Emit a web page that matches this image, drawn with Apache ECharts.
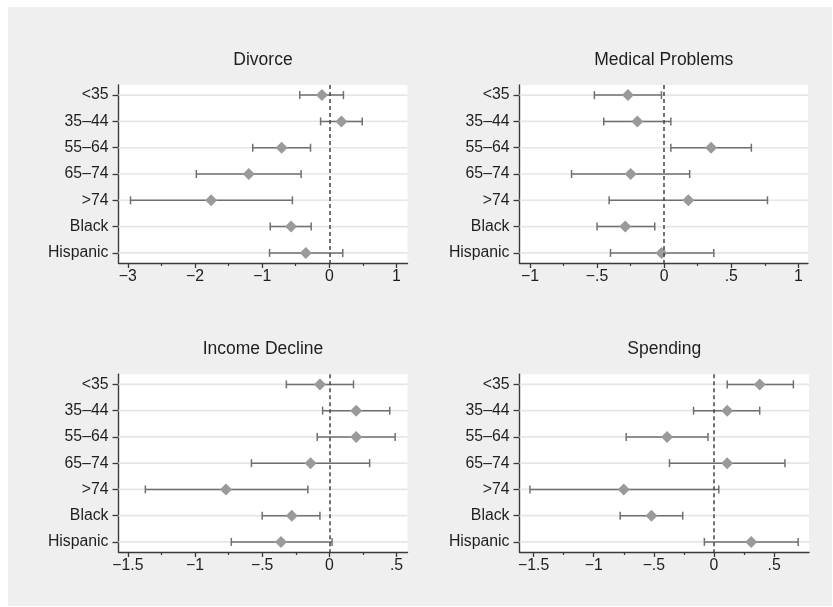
<!DOCTYPE html>
<html>
<head>
<meta charset="utf-8" />
<title>coef plot</title>
<script type="text/javascript" src="https://cdn.jsdelivr.net/npm/echarts@6/dist/echarts.min.js"></script>
<style>
    html, body { margin: 0; padding: 0; background: #ffffff; }
    #main { width: 833px; height: 607px; }
</style>
</head>
<body>
<div id="main"></div>
<script type="text/javascript">
    // rows (top to bottom)
    var rows = ['<35', '35–44', '55–64', '65–74', '>74', 'Black', 'Hispanic'];

    var divorceEst = [-0.11, 0.18, -0.71, -1.20, -1.76, -0.57, -0.35];
    var divorceLo  = [-0.44, -0.13, -1.14, -1.98, -2.96, -0.88, -0.89];
    var divorceHi  = [0.21, 0.49, -0.28, -0.42, -0.55, -0.27, 0.20];

    var medicalEst = [-0.27, -0.20, 0.35, -0.25, 0.18, -0.29, -0.02];
    var medicalLo  = [-0.52, -0.45, 0.05, -0.69, -0.41, -0.50, -0.40];
    var medicalHi  = [-0.02, 0.05, 0.65, 0.19, 0.77, -0.07, 0.37];

    var incomeEst = [-0.07, 0.20, 0.20, -0.14, -0.77, -0.28, -0.36];
    var incomeLo  = [-0.32, -0.05, -0.09, -0.58, -1.37, -0.50, -0.73];
    var incomeHi  = [0.18, 0.45, 0.49, 0.30, -0.16, -0.07, 0.02];

    var spendingEst = [0.38, 0.11, -0.39, 0.11, -0.75, -0.52, 0.31];
    var spendingLo  = [0.11, -0.17, -0.73, -0.37, -1.53, -0.78, -0.08];
    var spendingHi  = [0.66, 0.38, -0.05, 0.59, 0.04, -0.26, 0.70];

    var titles = ['Divorce', 'Medical Problems', 'Income Decline', 'Spending'];
    var majorTicks = [[-3, -2, -1, 0, 1], [-1, -0.5, 0, 0.5, 1], [-1.5, -1, -0.5, 0, 0.5], [-1.5, -1, -0.5, 0, 0.5]];
    var minorTicks = [[-2.5, -1.5, -0.5, 0.5], [-0.75, -0.25, 0.25, 0.75], [-1.25, -0.75, -0.25, 0.25], [-1.25, -0.75, -0.25, 0.25]];
    var xMin = [-3.139, -1.078, -1.570, -1.617];
    var xMax = [1.164, 1.072, 0.582, 0.790];

    var est = [divorceEst, medicalEst, incomeEst, spendingEst];
    var lo = [divorceLo, medicalLo, incomeLo, spendingLo];
    var hi = [divorceHi, medicalHi, incomeHi, spendingHi];

    // panel boxes
    var boxes = [
        {left: 118.5, top: 85, width: 289, height: 178},
        {left: 519.5, top: 85, width: 288.5, height: 178},
        {left: 118.5, top: 374.3, width: 289, height: 177.7},
        {left: 519.5, top: 374.3, width: 289.5, height: 177.7}
    ];

    var font = 'Liberation Sans, Arial, Helvetica, sans-serif';
    var axisColor = '#3a3a3a';

    function fmt(v) {
        var s = String(+(+v).toFixed(2));
        s = s.replace(/^(-?)0\./, '$1.');
        return s.replace('-', '\u2212');
    }

    var grids = [], xAxes = [], yAxes = [], series = [], titleList = [];
    var rowIdx = [1, 2, 3, 4, 5, 6, 7];

    for (var p = 0; p < 4; p++) {
        var b = boxes[p];
        grids.push({left: b.left, top: b.top, width: b.width, height: b.height,
            show: true, backgroundColor: '#ffffff', borderWidth: 0});

        titleList.push({
            text: titles[p], left: b.left + b.width / 2, top: b.top - 34,
            textAlign: 'center', padding: 0,
            textStyle: {fontSize: 17.5, fontWeight: 'normal', color: '#1e1e1e', fontFamily: font}
        });

        // major ticks + labels
        xAxes.push({
            type: 'value', gridIndex: p, min: xMin[p], max: xMax[p], position: 'bottom',
            axisLine: {show: true, onZero: false, lineStyle: {color: axisColor, width: 1.4}},
            axisTick: {show: true, length: 5, customValues: majorTicks[p], lineStyle: {color: axisColor, width: 1.3}},
            axisLabel: {show: true, customValues: majorTicks[p], margin: 6, fontSize: 15.8, color: '#1e1e1e',
                fontFamily: font, formatter: fmt},
            splitLine: {show: false}
        });
        // minor ticks
        xAxes.push({
            type: 'value', gridIndex: p, min: xMin[p], max: xMax[p], position: 'bottom',
            axisLine: {show: false, onZero: false},
            axisTick: {show: true, length: 3, customValues: minorTicks[p], lineStyle: {color: axisColor, width: 1.2}},
            axisLabel: {show: false},
            splitLine: {show: false}
        });

        yAxes.push({
            type: 'value', gridIndex: p, min: 0.615, max: 7.385, inverse: true,
            axisLine: {show: true, onZero: false, lineStyle: {color: axisColor, width: 1.4}},
            axisTick: {show: true, length: 6, customValues: rowIdx, lineStyle: {color: axisColor, width: 1.3}},
            axisLabel: {show: true, customValues: rowIdx, margin: 10, fontSize: 15.8, color: '#1e1e1e',
                fontFamily: font, formatter: function (v) { return rows[Math.round(v) - 1]; }},
            splitLine: {show: false}
        });

        var rowData = [], barData = [], ptData = [];
        for (var i = 0; i < rows.length; i++) {
            rowData.push([0, i + 1]);
            barData.push([lo[p][i], hi[p][i], i + 1]);
            ptData.push([est[p][i], i + 1]);
        }

        // horizontal grid lines
        series.push({
            type: 'custom', xAxisIndex: p * 2, yAxisIndex: p, data: rowData, silent: true, z: 1,
            encode: {x: 0, y: 1},
            renderItem: function (params, api) {
                var y = api.coord([0, api.value(1)])[1];
                var cs = params.coordSys;
                return {type: 'line', shape: {x1: cs.x, y1: y, x2: cs.x + cs.width, y2: y},
                    style: {stroke: '#e6e6e6', lineWidth: 1.6}};
            }
        });

        // confidence intervals
        series.push({
            type: 'custom', xAxisIndex: p * 2, yAxisIndex: p, data: barData, silent: true, z: 3,
            encode: {x: [0, 1], y: 2},
            renderItem: function (params, api) {
                var a = api.coord([api.value(0), api.value(2)]);
                var c = api.coord([api.value(1), api.value(2)]);
                var st = {stroke: '#707070', lineWidth: 1.5};
                return {type: 'group', children: [
                    {type: 'line', shape: {x1: a[0], y1: a[1], x2: c[0], y2: c[1]}, style: st},
                    {type: 'line', shape: {x1: a[0], y1: a[1] - 4, x2: a[0], y2: a[1] + 4}, style: st},
                    {type: 'line', shape: {x1: c[0], y1: c[1] - 4, x2: c[0], y2: c[1] + 4}, style: st}
                ]};
            }
        });

        // point estimates + zero line
        series.push({
            type: 'scatter', xAxisIndex: p * 2, yAxisIndex: p, data: ptData, z: 4,
            symbol: 'diamond', symbolSize: [12, 12],
            itemStyle: {color: '#9a9a9a', opacity: 1},
            markLine: {
                silent: true, symbol: 'none', label: {show: false},
                lineStyle: {color: '#444444', type: [4, 3], width: 1.5},
                data: [{xAxis: 0}]
            }
        });
    }

    var myChart = echarts.init(document.getElementById('main'));
    myChart.setOption({
        animation: false,
        backgroundColor: '#ffffff',
        graphic: [{type: 'rect', z: -10, silent: true, shape: {x: 8, y: 7, width: 824, height: 599},
            style: {fill: '#efefef'}}],
        title: titleList,
        grid: grids,
        xAxis: xAxes,
        yAxis: yAxes,
        series: series
    });
</script>
</body>
</html>
